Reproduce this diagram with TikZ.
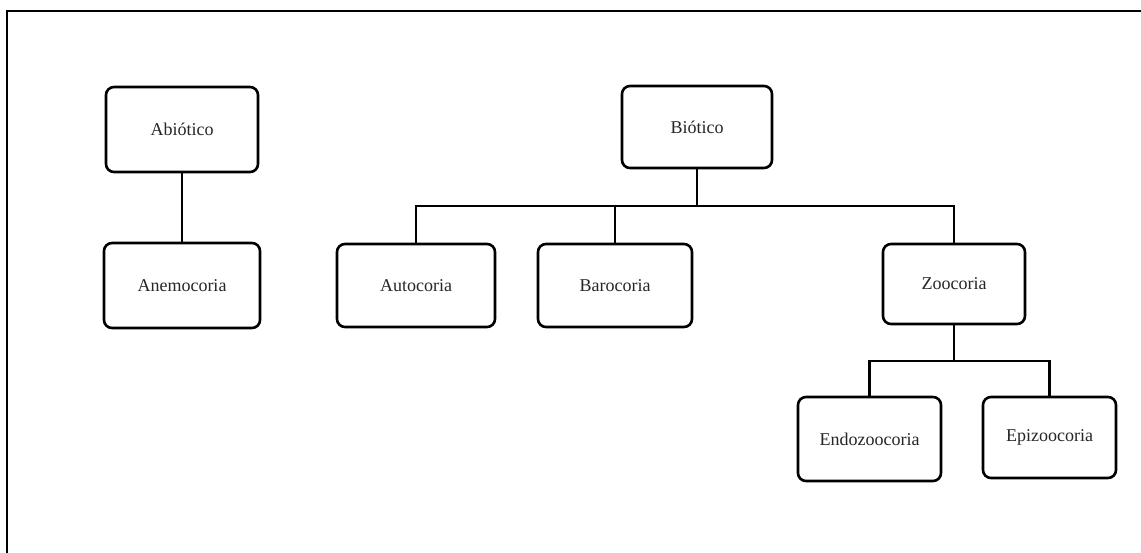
\documentclass[tikz,border=0pt]{standalone}
\usepackage{fontspec}
\setmainfont{Liberation Serif}
\begin{document}
\begin{tikzpicture}[x=1pt,y=-1pt,
  box/.style={draw=black, line width=2.6pt, rounded corners=8pt, fill=white,
    inner sep=0pt, align=center, font=\fontsize{18}{22}\selectfont, text=black!85},
  link/.style={draw=black, line width=2.6pt}]
\useasboundingbox (0,0) rectangle (1141,552);
\begin{scope}
\clip (0,0) rectangle (1141,552);
\draw[line width=2.6pt] (7,11) rectangle (1170,580);
\end{scope}
\node[box, minimum width=152pt, minimum height=85pt] (abio) at (182,129.5) {Abiótico};
\node[box, minimum width=156pt, minimum height=85pt] (anemo) at (182,285.5) {Anemocoria};
\node[box, minimum width=150pt, minimum height=82pt] (bio) at (697,127) {Biótico};
\node[box, minimum width=158pt, minimum height=83pt] (auto) at (416,285.5) {Autocoria};
\node[box, minimum width=154pt, minimum height=83pt] (baro) at (615,285.5) {Barocoria};
\node[box, minimum width=142pt, minimum height=80pt] (zoo) at (954,284) {Zoocoria};
\node[box, minimum width=143pt, minimum height=84pt] (endo) at (869.5,439) {Endozoocoria};
\node[box, minimum width=133pt, minimum height=81pt] (epi) at (1049.5,437.5) {Epizoocoria};
\coordinate (busB) at (697,206);
\coordinate (busZ) at (954,361);
\draw[link] (abio) -- (anemo);
\draw[link] (bio) -- (busB);
\draw[link] (auto.north) |- (busB) -| (zoo.north);
\draw[link] (baro.north) -- (baro.north |- busB);
\draw[link] (zoo) -- (busZ);
\draw[link] (endo.north) |- (busZ) -| (epi.north);
\end{tikzpicture}
\end{document}
